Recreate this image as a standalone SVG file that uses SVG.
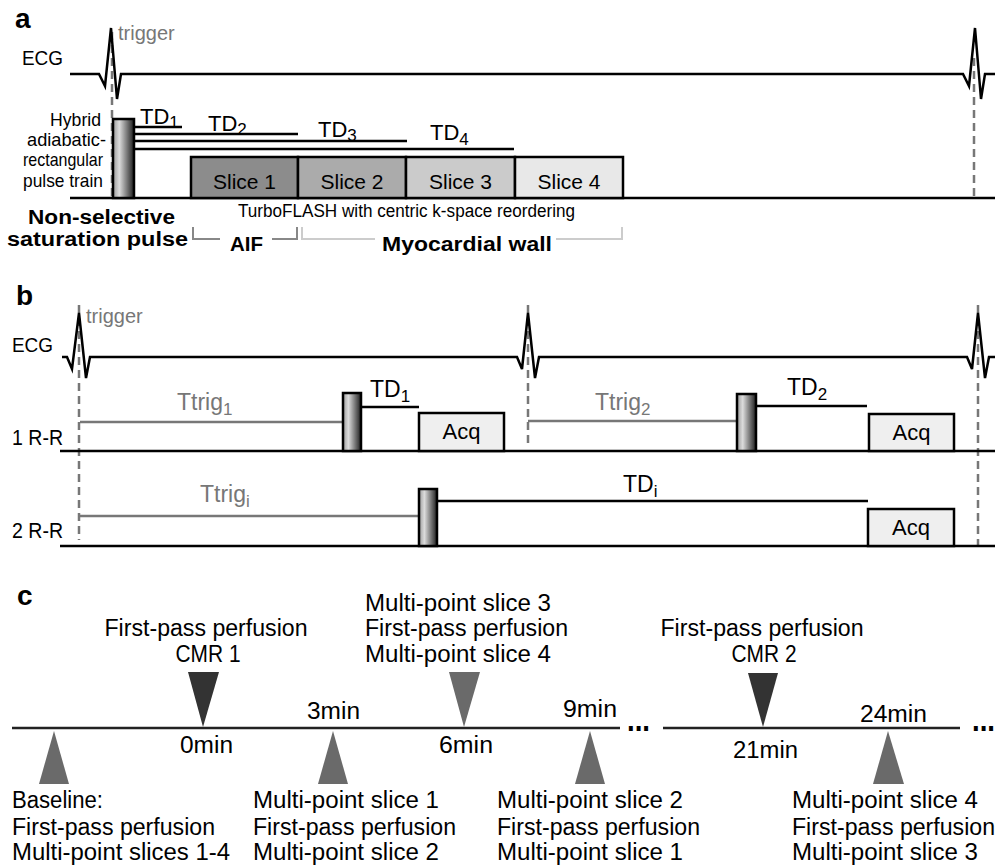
<svg xmlns="http://www.w3.org/2000/svg" width="1000" height="867" viewBox="0 0 1000 867">
<defs>
<linearGradient id="pg" x1="0" y1="0" x2="1" y2="0">
<stop offset="0" stop-color="#9a9a9a"/>
<stop offset="0.3" stop-color="#dcdcdc"/>
<stop offset="1" stop-color="#1e1e1e"/>
</linearGradient>
<style>
text{font-family:"Liberation Sans",Arial,sans-serif;fill:#000}
.gt{fill:#777}
.b{font-weight:bold}
.lbl{font-size:28px;font-weight:bold}
.ln{stroke:#000;stroke-width:2.5;fill:none}
.gl{stroke:#777;stroke-width:2.5;fill:none}
.dash{stroke:#777;stroke-width:2.5;stroke-dasharray:8 5;fill:none}
.pulse{fill:url(#pg);stroke:#000;stroke-width:2.5}
.acq{fill:#efefef;stroke:#000;stroke-width:2.5}
.slc{stroke:#000;stroke-width:2.5}
.s20{font-size:20px}
.hy{font-size:19px}
.s22{font-size:23px}
.s23{font-size:23px}
.sub{font-size:17px}
.dn{fill:#333}
.gy{fill:#6a6a6a}
</style>
</defs>
<rect width="1000" height="867" fill="#fff"/>

<!-- Panel a -->
<g id="panel-a">
<text class="lbl" x="15" y="28">a</text>
<text class="gt s20" x="118" y="40">trigger</text>
<text x="22" y="65" style="font-size:20px" textLength="41" lengthAdjust="spacingAndGlyphs">ECG</text>
<path class="dash" d="M112,32 V198 M974,58 V198"/>
<path class="ln" d="M70,74 H99 L105,86 L111,28 L117,99 L121,74 H963 L969,86 L975,28 L981,99 L985,74 H995"/>
<path class="ln" d="M70,198 H995"/>
<g id="a-pulse">
<rect class="pulse" x="113" y="119" width="21" height="79"/>
<text x="101" y="126" text-anchor="end" class="hy" textLength="51" lengthAdjust="spacingAndGlyphs">Hybrid</text>
<text x="106" y="146" text-anchor="end" class="hy" textLength="79" lengthAdjust="spacingAndGlyphs">adiabatic-</text>
<text x="103" y="166" text-anchor="end" class="hy" textLength="80" lengthAdjust="spacingAndGlyphs">rectangular</text>
<text x="103" y="187" text-anchor="end" class="hy" textLength="80" lengthAdjust="spacingAndGlyphs">pulse train</text>
</g>
<g id="a-td">
<path class="ln" d="M134,127 H182 M134,134 H298 M134,141 H407 M134,149 H514"/>
<text x="140" y="124" style="font-size:22px">TD<tspan class="sub" dy="4">1</tspan></text>
<text x="208" y="131" style="font-size:22px">TD<tspan class="sub" dy="4">2</tspan></text>
<text x="318" y="137" style="font-size:22px">TD<tspan class="sub" dy="4">3</tspan></text>
<text x="430" y="140" style="font-size:22px">TD<tspan class="sub" dy="5">4</tspan></text>
</g>
<g id="slice1"><rect class="slc" x="191" y="157" width="107" height="41" fill="#8c8c8c"/><text x="244.5" y="189" text-anchor="middle" style="font-size:21px">Slice 1</text></g>
<g id="slice2"><rect class="slc" x="298" y="157" width="108" height="41" fill="#ababab"/><text x="352" y="189" text-anchor="middle" style="font-size:21px">Slice 2</text></g>
<g id="slice3"><rect class="slc" x="406" y="157" width="109" height="41" fill="#cbcbcb"/><text x="460.5" y="189" text-anchor="middle" style="font-size:21px">Slice 3</text></g>
<g id="slice4"><rect class="slc" x="515" y="157" width="108" height="41" fill="#e8e8e8"/><text x="569" y="189" text-anchor="middle" style="font-size:21px">Slice 4</text></g>
<text class="b" x="28" y="224" style="font-size:20px" textLength="147" lengthAdjust="spacingAndGlyphs">Non-selective</text>
<text class="b" x="7" y="246" style="font-size:20px" textLength="181" lengthAdjust="spacingAndGlyphs">saturation pulse</text>
<text x="238" y="217" style="font-size:18px" textLength="337" lengthAdjust="spacingAndGlyphs">TurboFLASH with centric k-space reordering</text>
<g id="aif">
<path d="M193,227 V239 H220 M272,239 H297 V227" stroke="#888" stroke-width="2" fill="none"/>
<text class="b" x="230" y="251" style="font-size:21px" textLength="33" lengthAdjust="spacingAndGlyphs">AIF</text>
</g>
<g id="myo">
<path d="M302,227 V239 H375 M556,239 H622 V227" stroke="#ccc" stroke-width="2" fill="none"/>
<text class="b" x="382" y="251" style="font-size:21px" textLength="170" lengthAdjust="spacingAndGlyphs">Myocardial wall</text>
</g>
</g>

<!-- Panel b -->
<g id="panel-b">
<text class="lbl" x="16" y="305">b</text>
<text class="gt s20" x="86" y="323">trigger</text>
<text x="12" y="352" style="font-size:20px" textLength="41" lengthAdjust="spacingAndGlyphs">ECG</text>
<text x="12" y="445" style="font-size:22px" textLength="51" lengthAdjust="spacingAndGlyphs">1 R-R</text>
<text x="12" y="538" style="font-size:22px" textLength="51" lengthAdjust="spacingAndGlyphs">2 R-R</text>
<path class="dash" d="M79,305 V540 M528,305 V446 M978,305 V548"/>
<path class="ln" d="M62,357 H67 L72,369 L79,313 L86,378 L90,357 H517 L522,369 L528,313 L535,378 L539,357 H967 L972,369 L978,313 L985,378 L989,357 H995"/>
<path class="ln" d="M60,451 H995 M60,546 H995"/>
<g id="b-rr1-1">
<path class="gl" d="M80,422 H343"/>
<text class="gt s23" x="177" y="410">Ttrig<tspan class="sub" dy="5">1</tspan></text>
<rect class="pulse" x="343" y="393" width="18" height="58"/>
<path class="ln" d="M361,407 H419"/>
<text class="s23" x="370" y="397">TD<tspan class="sub" dy="5">1</tspan></text>
<rect class="acq" x="419" y="413" width="85" height="38"/>
<text x="461.5" y="439" text-anchor="middle" style="font-size:22px">Acq</text>
</g>
<g id="b-rr1-2">
<path class="gl" d="M528,421 H737"/>
<text class="gt s23" x="595" y="410">Ttrig<tspan class="sub" dy="5">2</tspan></text>
<rect class="pulse" x="737" y="394" width="19" height="57"/>
<path class="ln" d="M756,406 H867"/>
<text class="s23" x="787" y="395">TD<tspan class="sub" dy="5">2</tspan></text>
<rect class="acq" x="869" y="414" width="85" height="37"/>
<text x="911.5" y="440" text-anchor="middle" style="font-size:22px">Acq</text>
</g>
<g id="b-rr2">
<path class="gl" d="M80,516 H419"/>
<text class="gt s23" x="200" y="502">Ttrig<tspan class="sub" dy="5">i</tspan></text>
<rect class="pulse" x="419" y="489" width="18" height="57"/>
<path class="ln" d="M437,501 H868"/>
<text class="s23" x="623" y="492">TD<tspan class="sub" dy="5">i</tspan></text>
<rect class="acq" x="868" y="509" width="86" height="37"/>
<text x="911" y="535" text-anchor="middle" style="font-size:22px">Acq</text>
</g>
</g>

<!-- Panel c -->
<g id="panel-c">
<text class="lbl" x="17" y="605">c</text>
<g id="timeline">
<path stroke="#222" stroke-width="2.5" fill="none" d="M12,728 H620 M663,728 H960"/>
<text class="b" x="627" y="731" style="font-size:34px" textLength="23" lengthAdjust="spacingAndGlyphs">...</text>
<text class="b" x="972" y="731" style="font-size:34px" textLength="23" lengthAdjust="spacingAndGlyphs">...</text>
</g>
<g id="cmr1">
<path class="dn" d="M188,672 L219,672 L203,727 Z"/>
<text class="s22" x="206" y="636" text-anchor="middle" textLength="203" lengthAdjust="spacingAndGlyphs">First-pass perfusion</text>
<text class="s22" x="208" y="662" text-anchor="middle" textLength="65" lengthAdjust="spacingAndGlyphs">CMR 1</text>
<text class="s22" x="180" y="753" textLength="53" lengthAdjust="spacingAndGlyphs">0min</text>
</g>
<g id="t6">
<path class="gy" d="M449,672 L480,672 L464,727 Z"/>
<text class="s22" x="365" y="611" textLength="186" lengthAdjust="spacingAndGlyphs">Multi-point slice 3</text>
<text class="s22" x="365" y="636" textLength="203" lengthAdjust="spacingAndGlyphs">First-pass perfusion</text>
<text class="s22" x="365" y="662" textLength="186" lengthAdjust="spacingAndGlyphs">Multi-point slice 4</text>
<text class="s22" x="439" y="753" textLength="54" lengthAdjust="spacingAndGlyphs">6min</text>
</g>
<g id="cmr2">
<path class="dn" d="M748,673 L778,673 L763,727 Z"/>
<text class="s22" x="762" y="636" text-anchor="middle" textLength="203" lengthAdjust="spacingAndGlyphs">First-pass perfusion</text>
<text class="s22" x="764" y="662" text-anchor="middle" textLength="65" lengthAdjust="spacingAndGlyphs">CMR 2</text>
<text class="s22" x="733" y="758" textLength="65" lengthAdjust="spacingAndGlyphs">21min</text>
</g>
<g id="baseline">
<path class="gy" d="M39,784 L69,784 L54,731 Z"/>
<text class="s22" x="12" y="808" textLength="91" lengthAdjust="spacingAndGlyphs">Baseline:</text>
<text class="s22" x="12" y="835" textLength="203" lengthAdjust="spacingAndGlyphs">First-pass perfusion</text>
<text class="s22" x="12" y="860" textLength="218" lengthAdjust="spacingAndGlyphs">Multi-point slices 1-4</text>
</g>
<g id="t3">
<path class="gy" d="M318,784 L348,784 L333,731 Z"/>
<text class="s22" x="307" y="719" textLength="53" lengthAdjust="spacingAndGlyphs">3min</text>
<text class="s22" x="253" y="808" textLength="186" lengthAdjust="spacingAndGlyphs">Multi-point slice 1</text>
<text class="s22" x="253" y="835" textLength="203" lengthAdjust="spacingAndGlyphs">First-pass perfusion</text>
<text class="s22" x="253" y="860" textLength="186" lengthAdjust="spacingAndGlyphs">Multi-point slice 2</text>
</g>
<g id="t9">
<path class="gy" d="M575,784 L605,784 L590,731 Z"/>
<text class="s22" x="563" y="717" textLength="54" lengthAdjust="spacingAndGlyphs">9min</text>
<text class="s22" x="497" y="808" textLength="186" lengthAdjust="spacingAndGlyphs">Multi-point slice 2</text>
<text class="s22" x="497" y="835" textLength="203" lengthAdjust="spacingAndGlyphs">First-pass perfusion</text>
<text class="s22" x="497" y="860" textLength="186" lengthAdjust="spacingAndGlyphs">Multi-point slice 1</text>
</g>
<g id="t24">
<path class="gy" d="M873,784 L904,784 L888,731 Z"/>
<text class="s22" x="860" y="722" textLength="67" lengthAdjust="spacingAndGlyphs">24min</text>
<text class="s22" x="792" y="808" textLength="186" lengthAdjust="spacingAndGlyphs">Multi-point slice 4</text>
<text class="s22" x="792" y="835" textLength="203" lengthAdjust="spacingAndGlyphs">First-pass perfusion</text>
<text class="s22" x="792" y="860" textLength="186" lengthAdjust="spacingAndGlyphs">Multi-point slice 3</text>
</g>
</g>
</svg>
